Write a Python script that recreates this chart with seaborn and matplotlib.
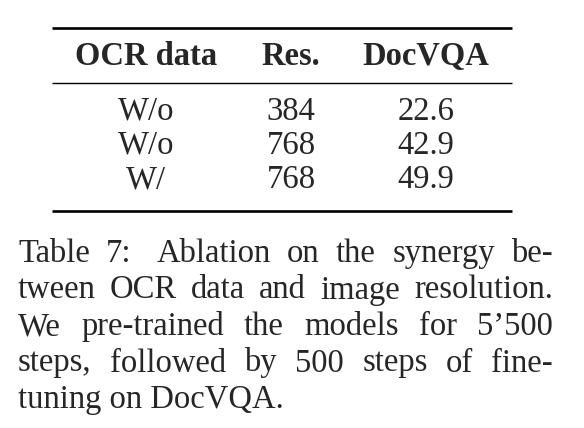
import matplotlib
matplotlib.use("Agg")
import matplotlib.pyplot as plt
import seaborn as sns

# table content
columns = ["OCR data", "Res.", "DocVQA"]
ocr_data = ["W/o", "W/o", "W/"]
resolution = [384, 768, 768]
docvqa = [22.6, 42.9, 49.9]

caption_lines = [
    "Table 7: Ablation on the synergy be-",
    "tween OCR data and image resolution.",
    "We pre-trained the models for 5\u2019500",
    "steps, followed by 500 steps of fine-",
    "tuning on DocVQA.",
]

sns.set_style("white")
plt.rcParams["font.family"] = ["Liberation Serif", "DejaVu Serif"]

W, H = 584, 428
fig = plt.figure(figsize=(W / 100, H / 100), dpi=100)
ax = fig.add_axes([0, 0, 1, 1])
ax.set_xlim(0, W)
ax.set_ylim(H, 0)
ax.axis("off")

col_x = [146, 291, 426]
header_y = 65
row_y0, row_step = 119.5, 34.3
table_fs = 23.5

# booktabs-style rules
ax.hlines([28, 211], 52, 512, colors="black", linewidth=1.9)
ax.hlines(82.7, 52, 512, colors="black", linewidth=1.0)

for x, name in zip(col_x, columns):
    ax.text(x, header_y, name, ha="center", va="baseline",
            fontsize=table_fs, fontweight="bold")

for i, (o, r, d) in enumerate(zip(ocr_data, resolution, docvqa)):
    y = row_y0 + i * row_step
    for x, val in zip(col_x, [o, str(r), f"{d:.1f}"]):
        ax.text(x, y, val, ha="center", va="baseline", fontsize=table_fs)

# caption, justified between left and right margins
cap_fs = 23.5
left, right = 18, 553
cap_y0, cap_step = 262, 36.5
renderer = fig.canvas.get_renderer()

for i, line in enumerate(caption_lines):
    y = cap_y0 + i * cap_step
    last = i == len(caption_lines) - 1
    if last:
        ax.text(left, y, line, ha="left", va="baseline", fontsize=cap_fs)
        continue
    words = line.split()
    texts = [ax.text(0, y, w, ha="left", va="baseline", fontsize=cap_fs) for w in words]
    widths = [t.get_window_extent(renderer).width for t in texts]
    # a little extra room after the colon, like LaTeX
    extra = [8 if w.endswith(":") else 0 for w in words[:-1]]
    gap = (right - left - sum(widths) - sum(extra)) / (len(words) - 1)
    x = left
    for t, w, e in zip(texts, widths, extra + [0]):
        t.set_x(x)
        x += w + gap + e

fig.savefig("out.png", dpi=100)
